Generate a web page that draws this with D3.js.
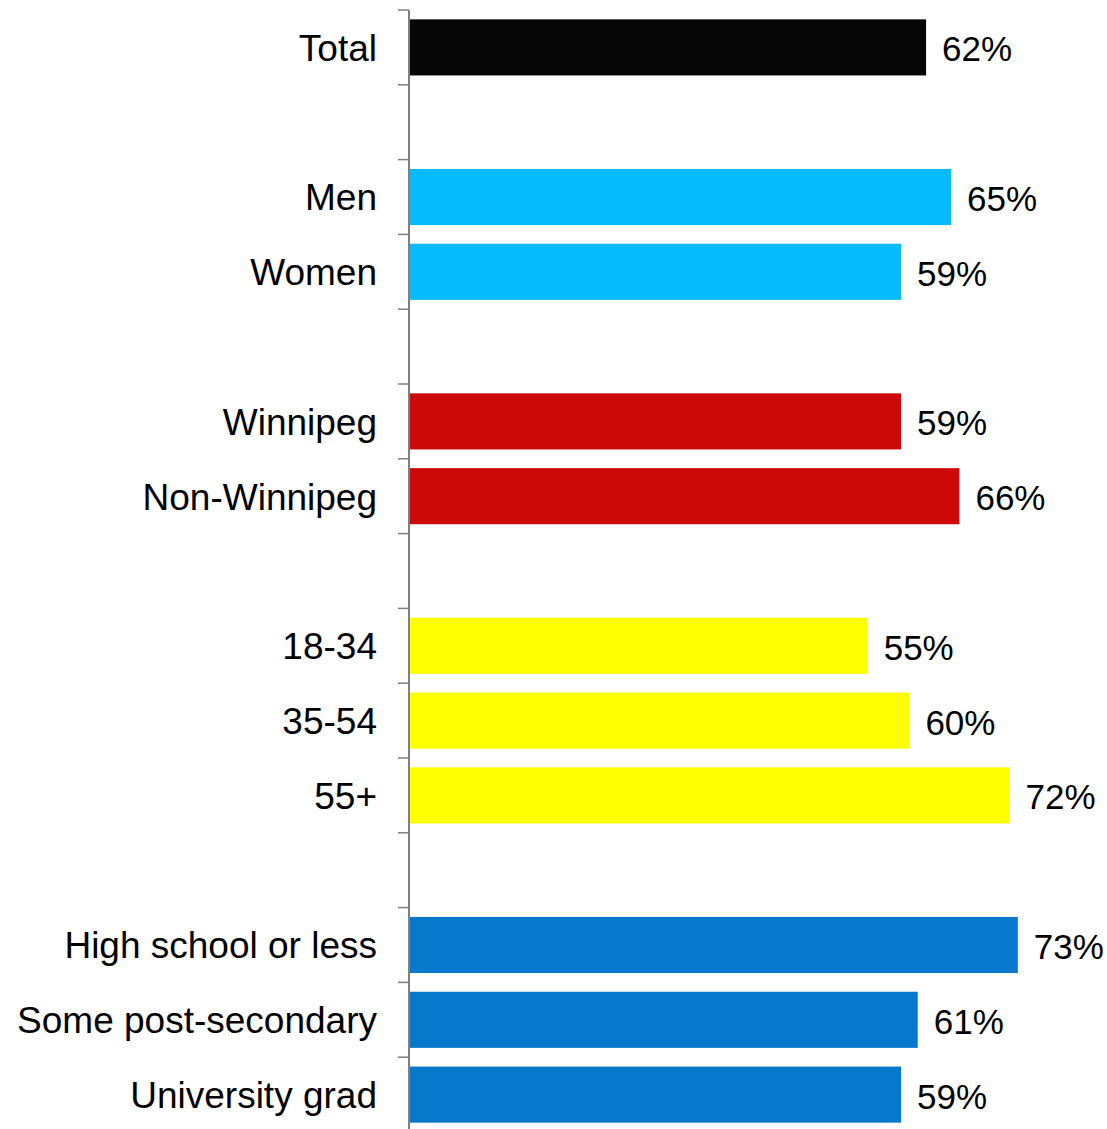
<!DOCTYPE html>
<html>
<head>
<meta charset="utf-8">
<script src="https://cdn.jsdelivr.net/npm/d3@7"></script>
<style>
  html, body { margin: 0; padding: 0; background: #ffffff; }
  svg { display: block; }
</style>
</head>
<body>
<svg id="chart" width="1107" height="1129"></svg>
<script>
// Rows (blank strings are spacer rows between groups)
const categories = ["Total", "", "Men", "Women", "", "Winnipeg", "Non-Winnipeg", "", "18-34", "35-54", "55+", "", "High school or less", "Some post-secondary", "University grad"];
const values =     [62, null, 65, 59, null, 59, 66, null, 55, 60, 72, null, 73, 61, 59];
const groups =     ["total", null, "gender", "gender", null, "region", "region", null, "age", "age", "age", null, "edu", "edu", "edu"];
const groupNames = ["total", "gender", "region", "age", "edu"];
const groupColors = ["#060606", "#06BCFE", "#CC0808", "#FFFF00", "#0778CB"];

const rows = categories.map((c, i) => ({ id: i, label: c, value: values[i], group: groups[i] }));

const svg = d3.select("#chart");
const axisX = 409;
const FONT = "'Liberation Sans', Arial, sans-serif";

const y = d3.scaleBand()
  .domain(rows.map(d => d.id))
  .range([10, 10 + 74.8 * 15])
  .paddingInner(0.25)
  .paddingOuter(0.125);

const x = d3.scaleLinear().domain([0, 100]).range([axisX, axisX + 834]);

const color = d3.scaleOrdinal().domain(groupNames).range(groupColors);

// bars
svg.append("g").selectAll("rect")
  .data(rows.filter(d => d.value != null))
  .join("rect")
  .attr("x", x(0))
  .attr("y", d => y(d.id))
  .attr("width", d => x(d.value) - x(0))
  .attr("height", y.bandwidth())
  .attr("fill", d => color(d.group));

// value labels
svg.append("g").selectAll("text")
  .data(rows.filter(d => d.value != null))
  .join("text")
  .attr("x", d => x(d.value) + 16)
  .attr("y", d => y(d.id) + y.bandwidth() / 2)
  .attr("dy", "0.4em")
  .attr("font-family", FONT)
  .attr("font-size", 35)
  .attr("fill", "#000")
  .text(d => d.value + "%");

// category labels
svg.append("g").selectAll("text")
  .data(rows.filter(d => d.label !== ""))
  .join("text")
  .attr("x", axisX - 32)
  .attr("y", d => y(d.id) + y.bandwidth() / 2)
  .attr("dy", "0.36em")
  .attr("text-anchor", "end")
  .attr("font-family", FONT)
  .attr("font-size", 37)
  .attr("fill", "#000")
  .text(d => d.label);

// axis line and ticks at band boundaries
const step = y.step();
const boundaries = d3.range(0, 16).map(i => 10 + i * step);
const axisG = svg.append("g");
axisG.append("line")
  .attr("x1", axisX).attr("x2", axisX)
  .attr("y1", 10).attr("y2", 10 + 15 * step)
  .attr("stroke", "#808080").attr("stroke-width", 2);
axisG.selectAll("line.tick")
  .data(boundaries)
  .join("line")
  .attr("class", "tick")
  .attr("x1", axisX - 11).attr("x2", axisX)
  .attr("y1", d => d).attr("y2", d => d)
  .attr("stroke", "#808080").attr("stroke-width", 1.5);
</script>
</body>
</html>
